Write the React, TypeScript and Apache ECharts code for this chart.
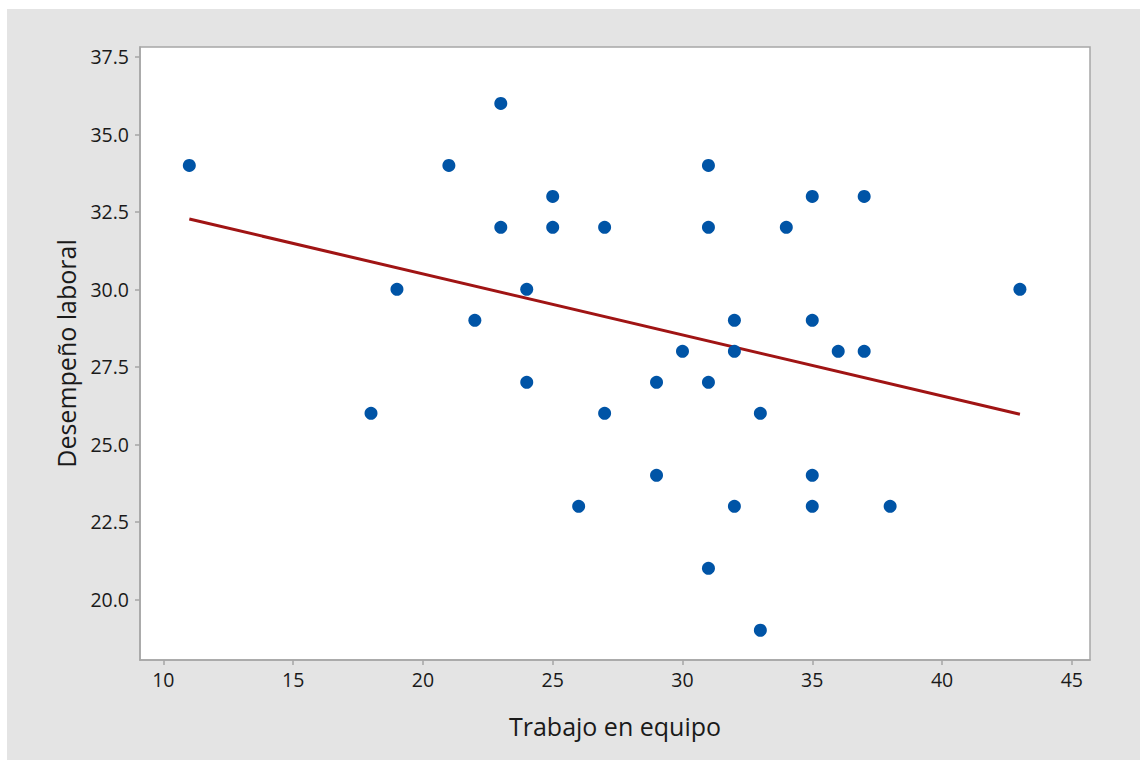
import React, { useEffect, useRef } from "react";
import * as echarts from "echarts";

const trabajoEnEquipo = [11, 18, 19, 21, 22, 23, 23, 24, 24, 25, 25, 26, 27, 27, 29, 29, 30, 31, 31, 31, 31, 32, 32, 32, 33, 33, 34, 35, 35, 35, 35, 36, 37, 37, 38, 43];
const desempenoLaboral = [34, 26, 30, 34, 29, 36, 32, 30, 27, 33, 32, 23, 32, 26, 27, 24, 28, 34, 32, 27, 21, 29, 28, 23, 26, 19, 32, 33, 29, 24, 23, 28, 33, 28, 23, 30];
const fitX = [11, 43];
const fitY = [32.27, 25.97];
const xTicks = [10, 15, 20, 25, 30, 35, 40, 45];
const yTicks = [20, 22.5, 25, 27.5, 30, 32.5, 35, 37.5];

const FONT = "'Open Sans', 'Noto Sans', sans-serif";
const AXIS_COLOR = "#a6a6a6";
const TEXT_COLOR = "#1a1a1a";

export default function App() {
  const ref = useRef<HTMLDivElement>(null);
  useEffect(() => {
    if (!ref.current) return;
    const chart = echarts.init(ref.current, undefined, { renderer: "svg" });
    const points = trabajoEnEquipo.map((x, i) => [x, desempenoLaboral[i]]);
    const line = fitX.map((x, i) => [x, fitY[i]]);
    chart.setOption({
      animation: false,
      backgroundColor: "#e4e4e4",
      textStyle: { fontFamily: FONT },
      grid: {
        left: 133,
        top: 38,
        right: 50,
        bottom: 100,
        show: true,
        backgroundColor: "#ffffff",
        borderColor: AXIS_COLOR,
        borderWidth: 1.5,
      },
      xAxis: {
        type: "value",
        min: 9.1,
        max: 45.7,
        name: "Trabajo en equipo",
        nameLocation: "middle",
        nameGap: 53,
        nameTextStyle: { fontSize: 25, color: TEXT_COLOR, fontFamily: FONT },
        axisLine: { show: true, lineStyle: { color: AXIS_COLOR, width: 1.5 } },
        axisTick: { show: true, length: 5, customValues: xTicks, lineStyle: { color: AXIS_COLOR, width: 1.5 } },
        axisLabel: { customValues: xTicks, fontSize: 19.5, color: TEXT_COLOR, margin: 9, fontFamily: FONT },
        splitLine: { show: false },
      },
      yAxis: {
        type: "value",
        min: 18.04,
        max: 37.82,
        name: "Desempeño laboral",
        nameLocation: "middle",
        nameGap: 62,
        nameTextStyle: { fontSize: 25, color: TEXT_COLOR, fontFamily: FONT },
        axisLine: { show: true, lineStyle: { color: AXIS_COLOR, width: 1.5 } },
        axisTick: { show: true, length: 5, customValues: yTicks, lineStyle: { color: AXIS_COLOR, width: 1.5 } },
        axisLabel: {
          customValues: yTicks,
          fontSize: 19.5,
          color: TEXT_COLOR,
          margin: 11,
          fontFamily: FONT,
          formatter: (v: number) => v.toFixed(1),
        },
        splitLine: { show: false },
      },
      series: [
        {
          type: "line",
          data: line,
          symbol: "none",
          lineStyle: { color: "#a01414", width: 3 },
          z: 2,
        },
        {
          type: "scatter",
          data: points,
          symbol: "circle",
          symbolSize: 13,
          itemStyle: { color: "#0054a6", opacity: 1 },
          z: 3,
        },
      ],
    });
    return () => chart.dispose();
  }, []);
  return (
    <div
      ref={ref}
      style={{ position: "fixed", left: 7, top: 9, width: 1133, height: 751 }}
    />
  );
}
